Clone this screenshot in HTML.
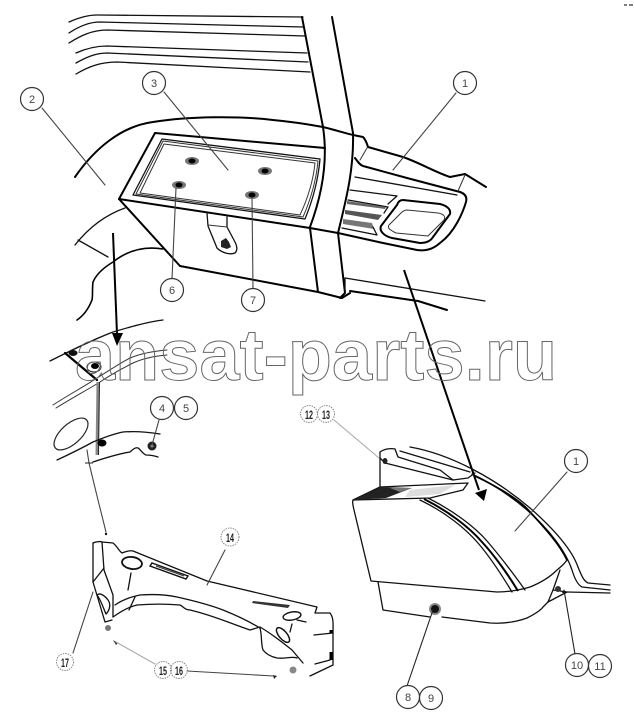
<!DOCTYPE html>
<html><head><meta charset="utf-8"><style>
html,body{margin:0;padding:0;background:#fff}
svg{display:block;filter:blur(0.35px)}
.t{fill:none;stroke:#111;stroke-width:1.3;stroke-linecap:round;stroke-linejoin:round}
.b{fill:none;stroke:#000;stroke-width:2;stroke-linecap:round;stroke-linejoin:round}
.m{fill:none;stroke:#333;stroke-width:1;stroke-linecap:round;stroke-linejoin:round}
.g{fill:none;stroke:#444;stroke-width:1.1;stroke-linecap:round}
.lg{fill:none;stroke:#aaa;stroke-width:1.1;stroke-linecap:round}
.c{fill:#fff;stroke:#333;stroke-width:1.2}
.s{fill:none;stroke:#888;stroke-width:1;stroke-dasharray:1.5 1}
text.l{font-family:"Liberation Sans",sans-serif;font-size:11px;fill:#444;text-anchor:middle}
text.n{font-family:"Liberation Sans",sans-serif;font-size:12px;font-weight:bold;fill:#222}
</style></head><body>
<svg width="634" height="718" viewBox="0 0 634 718" xmlns="http://www.w3.org/2000/svg">
<rect width="634" height="718" fill="#fff"/>
<path d="M624 5h3M629 5h4" stroke="#333" stroke-width="1.2"/>

<!-- window lines -->
<g class="t">
<path d="M69 22C78 18 88 15 97 15L303 17"/>
<path d="M69 33C78 27 88 22 100 22L303 27"/>
<path d="M69 43C80 36 92 30 107 30L305 36"/>
<path d="M76 53C85 49 95 46 107 46L307 53"/>
<path d="M76 63C85 58 95 53 107 53L308 62"/>
<path d="M76 74C88 67 100 62 117 62L310 72"/>
</g>

<!-- pillar -->
<g class="b">
<path d="M302 17L323 127C328 160 322 195 310 227"/>
<path d="M332 17L353 133C354 170 346 200 338 233"/>
<path d="M75 177C95 148 122 126 153 122C190 116 240 116 273 120C295 122 312 125 323 127C335 130 345 133 353 135L363 137C366 140 367 144 368 147L403 157C420 163 435 172 450 177L465 174L486 187"/>
<!-- box -->
<path d="M155 133L325 148"/>
<path d="M155 133L119 199L310 228L338 233"/>
<path d="M119 199L180 266L318 292L342 298L350 293"/>
<path d="M310 228L318 292"/>
<path d="M338 233L345 293L340 298"/>
</g>
<path class="t" d="M162 139L320 159C318 182 312 202 305 219L133 195Z"/>
<path class="m" d="M164 144L315 163C313 183 307 200 300 215L140 193Z"/>
<path class="m" d="M163 141L318 161C316 182 310 201 303 217L136 194Z"/>

<!-- box screws -->
<g>
<ellipse cx="192" cy="161" rx="7" ry="4" fill="#777"/><ellipse cx="192" cy="161" rx="3.5" ry="2.5" fill="#000"/>
<ellipse cx="265" cy="171" rx="7" ry="4" fill="#777"/><ellipse cx="265" cy="171" rx="3.5" ry="2.5" fill="#000"/>
<ellipse cx="179" cy="185" rx="7" ry="4" fill="#777"/><ellipse cx="179" cy="185" rx="3.5" ry="2.5" fill="#000"/>
<ellipse cx="252" cy="195" rx="7" ry="4" fill="#777"/><ellipse cx="252" cy="195" rx="3.5" ry="2.5" fill="#000"/>
</g>
<!-- tab -->
<path class="t" d="M207 213L208 226L217 248C222 253 230 255 235 253C238 250 237 246 235 242L227 227L227 217"/>
<path class="m" d="M208 225L227 227"/>
<path d="M221 241l5-3 3 4 2 5-4 2-6-2z" fill="#222"/>

<!-- lower-left of upper view -->
<path class="t" d="M125 208C108 214 90 226 75 245"/>
<path class="t" d="M78 240L108 257"/>
<path class="b" d="M163 249C145 246 128 250 113 262C103 268 96 275 93 282C92 290 93 295 92 300C88 310 83 316 77 320" style="stroke-width:1.6"/>

<!-- right of upper view -->
<path class="m" d="M367 148L360 160"/>
<path class="b" d="M355 158C358 162 360 165 363 166L407 178L460 192C466 194 467 198 466 202C463 212 455 232 440 243C432 250 425 251 417 250L383 243L338 233"/>
<path class="m" d="M465 175L458 191"/>
<path class="t" d="M355 177L457 195"/>
<path class="t" d="M350 190L397 196L388 204"/>
<path class="t" d="M348 200L388 207L384 213"/>
<path d="M347 201L386 207L385 209L347 204Z" fill="#666"/>
<path d="M345 210L382 215L378 220L345 214Z" fill="#555"/>
<path d="M343 219L372 223L374 229L343 224Z" fill="#777"/>
<path class="t" d="M342 228L377 235L373 227"/>
<path class="b" d="M403 200L440 204C448 206 451 210 450 214L433 237C430 242 425 243 420 243L392 238C384 236 379 231 381 226L397 205C398 202 400 200 403 200Z"/>
<path class="m" d="M407 210L438 213C444 214 446 217 444 220L428 236L396 233C390 230 387 228 389 225L401 213C403 211 405 210 407 210Z"/>
<path class="t" d="M345 278L485 301"/>
<path class="t" d="M345 278V291"/>
<path class="b" d="M350 291L418 301L447 310"/>

<!-- arrows -->
<path d="M404 270L479 490" stroke="#000" stroke-width="2" fill="none"/>
<path d="M475 493L487 489L484 501Z" fill="#000"/>
<path d="M113 233L117 334" stroke="#000" stroke-width="2" fill="none"/>
<path d="M112 333L123 333L117 346Z" fill="#000"/>

<!-- detail left -->
<path class="t" d="M50 361C70 351 92 340 113 332C130 327 147 322 163 320"/>
<path class="m" d="M53 405C70 394 85 386 97 378C110 370 120 363 130 358C142 353 155 351 167 350"/>
<path class="m" d="M56 408C72 398 87 390 100 382C113 373 123 368 133 363C144 358 155 356 167 355"/>
<path class="b" d="M65 353L97 380" style="stroke-width:2.2"/>
<ellipse cx="73" cy="353" rx="4.5" ry="3" fill="#111"/>
<ellipse cx="94" cy="367" rx="7" ry="5" fill="#fff" stroke="#222"/>
<ellipse cx="95" cy="366" rx="4" ry="3" fill="#000"/>
<path d="M98 382L97 455" stroke="#888" stroke-width="3" fill="none"/>
<path d="M99.500 382L98.500 455" stroke="#222" stroke-width="1" fill="none"/>
<ellipse cx="71" cy="434" rx="21" ry="10" transform="rotate(-42 71 434)" fill="none" stroke="#222" stroke-width="1.200"/>
<path class="t" d="M57 460C70 454 82 448 93 442C105 437 113 434 123 432C135 431 148 432 160 434"/>
<path class="t" d="M93 462C105 458 118 454 130 452C133 449 136 447 138 448C140 449 143 454 146 455C150 455 155 456 158 457"/>
<ellipse cx="102" cy="443" rx="4.500" ry="3.500" fill="#000"/>
<circle cx="152" cy="446" r="4.500" fill="#222"/>
<circle cx="152" cy="446" r="1.500" fill="#888"/>
<path class="g" d="M87 450L89 463L98 500L106 532"/>
<path d="M85 463h8" stroke="#222" stroke-width="1"/>
<circle cx="106" cy="534" r="1.200" fill="#111"/>

<!-- bracket -->
<g class="t">
<path d="M93 543C95 542 100 541 102 542L113 543C117 546 119 551 122 553C125 552 129 550 133 551L207 581L317 607L315 613L330 613C334 618 333 625 333 635L333 665L310 676"/>
<path d="M93 543L93 582L105 622L112 620"/>
<path d="M102 542L104 570L113 595L113 617"/>
<path d="M93 582L104 568"/>
<path d="M113 617C120 612 128 607 137 605C150 604 168 604 180 605C184 607 185 610 190 610C212 615 232 624 250 630L260 627C272 634 282 642 292 650L303 663"/>
<path d="M115 605C122 600 130 597 140 595C155 594 168 595 177 597C195 601 210 605 223 610C238 616 250 622 260 628"/>
<path d="M260 628C262 635 261 645 263 650C267 655 272 657 277 658C285 659 292 656 297 658"/>
<path d="M128 590L131 573M129 610L135 597"/>
<path d="M97 595C101 600 104 610 106 614C110 610 111 604 108 600C105 596 100 592 97 595Z"/>
<path d="M292 624L290 632M297 620L306 622"/>
<path d="M333 633L314 635M330 660L315 664"/>
</g>
<ellipse cx="132" cy="563" rx="10" ry="6" fill="none" stroke="#111" stroke-width="1.800" transform="rotate(8 132 563)"/>
<path d="M152 563L188 576L186 579L150 566Z" fill="none" stroke="#111" stroke-width="1.400"/>
<path d="M156 566L184 576" stroke="#333" stroke-width="1"/>
<path d="M253 601L290 605L288 608L252 603Z" fill="#333"/>
<ellipse cx="292" cy="616" rx="9" ry="4" fill="none" stroke="#111" stroke-width="1.400" transform="rotate(-10 292 616)"/>
<ellipse cx="283" cy="635" rx="9" ry="4" fill="none" stroke="#111" stroke-width="1.500" transform="rotate(50 283 635)"/>
<path d="M331 633v-3M331 660v-8" stroke="#000" stroke-width="3"/>
<circle cx="108" cy="628" r="3" fill="#777"/>
<path d="M113 640l5 3-2 2z" fill="#333"/>
<circle cx="293" cy="670" r="3.500" fill="#888"/>
<path d="M273 675l4 1-3 3z" fill="#222"/>

<!-- big body -->
<g class="t">
<path d="M380 452C384 449 390 448 395 449L398 457L440 470L453 480L468 478L475 473"/>
<path d="M380 452L380 487"/>
<path d="M380 458L385 463L453 480"/>
<path d="M400 451L440 463L470 472"/>
<path d="M410 447C450 454 495 478 530 508C555 530 572 550 578 567C582 577 584 581 588 583L610 585"/>
<path d="M472 474C495 485 512 497 527 510C550 530 566 552 572 570C575 580 578 585 582 587L610 590"/>
<path d="M353 500C352 503 353 505 354 510L371 581L497 592C510 592 520 590 530 587C540 583 550 577 557 570C562 566 565 563 567 560"/>
<path d="M378 582L383 610L430 617"/>
<path d="M442 617L490 623C505 624 516 622 527 618C535 614 540 611 543 607L548 602"/>
<path d="M548 602L553 590L560 570"/>
<path d="M548 602L567 592L553 590"/>
<path d="M567 592L610 593"/>
<path d="M353 500L380 487L468 483L463 490L430 498Z"/>
<path d="M420 500C445 512 465 528 478 543C490 557 503 577 512 592"/>
<path d="M428 498C452 510 474 526 487 541C500 556 515 576 525 590"/>
</g>
<path d="M424 499C448 511 469 527 482 542C495 556 509 576 518 591" fill="none" stroke="#000" stroke-width="2"/>
<path d="M475 476C500 488 520 500 530 512C545 528 560 545 567 560" fill="none" stroke="#000" stroke-width="1.800"/>
<path d="M353 500L381 487L412 488L386 498Z" fill="#222"/>
<path d="M390 488L412 488L400 492Z" fill="#777"/>
<path d="M410 490L455 485L440 494L405 497Z" fill="#ddd"/>
<ellipse cx="385" cy="461" rx="2.500" ry="3" fill="#222"/>
<circle cx="435" cy="609" r="6" fill="#888"/>
<circle cx="435" cy="609" r="4" fill="#111"/>
<circle cx="558" cy="589" r="3" fill="#333"/>
<path d="M564 590l3 3h-5z" fill="#000"/>

<!-- leaders -->
<g class="g">
<path d="M456 93L393 170"/>
<path d="M164 92L228 170"/>
<path d="M42 108L105 185"/>
<path d="M176 188L172 279"/>
<path d="M252 197L253 289"/>
<path d="M159 420L152 445"/>
<path d="M225 550L207 585"/>
<path d="M73 653L93 592"/>
<path d="M187 671L274 676"/>
<path d="M567 472L515 531"/>
<path d="M407 686L433 610" stroke="#222"/>
<path d="M575 654L564 590" stroke="#222"/>
</g>
<path class="lg" d="M155 664L116 642"/>
<path class="lg" d="M334 420L379 458"/>

<!-- watermark -->
<text x="75" y="380" font-family="'Liberation Sans',sans-serif" font-weight="bold" font-size="72" textLength="482" lengthAdjust="spacing" fill="none" stroke="#666" stroke-width="1">ansat-parts.ru</text>

<!-- labels -->
<circle class="c" cx="465" cy="83" r="11.500"/><text class="l" x="465" y="87">1</text>
<circle class="c" cx="32" cy="99" r="11.500"/><text class="l" x="32" y="103">2</text>
<circle class="c" cx="154" cy="83" r="11.500"/><text class="l" x="154" y="87">3</text>
<circle class="c" cx="172" cy="290" r="11.500"/><text class="l" x="172" y="294">6</text>
<circle class="c" cx="253" cy="300" r="11.500"/><text class="l" x="253" y="304">7</text>
<circle class="c" cx="162" cy="408" r="11.500"/><text class="l" x="162" y="412">4</text>
<circle class="c" cx="186" cy="408" r="11.500"/><text class="l" x="186" y="412">5</text>
<circle class="c" cx="576" cy="461" r="11.500"/><text class="l" x="576" y="465">1</text>
<circle class="c" cx="408" cy="697" r="11.500"/><text class="l" x="408" y="701">8</text>
<circle class="c" cx="431" cy="698" r="11.500"/><text class="l" x="431" y="702">9</text>
<circle class="c" cx="577" cy="665" r="11.500"/><text class="l" x="577" y="669">10</text>
<circle class="c" cx="600" cy="666" r="11.500"/><text class="l" x="600" y="670">11</text>
<circle class="s" cx="309" cy="414" r="8.500"/><text class="n" x="305" y="419" textLength="8" lengthAdjust="spacingAndGlyphs">12</text>
<circle class="s" cx="326" cy="414" r="8.500"/><text class="n" x="322" y="419" textLength="8" lengthAdjust="spacingAndGlyphs">13</text>
<circle class="s" cx="230" cy="537" r="9"/><text class="n" x="226" y="542" textLength="8" lengthAdjust="spacingAndGlyphs">14</text>
<circle class="s" cx="163" cy="670" r="8.500"/><text class="n" x="159" y="675" textLength="8" lengthAdjust="spacingAndGlyphs">15</text>
<circle class="s" cx="179" cy="670" r="8.500"/><text class="n" x="175" y="675" textLength="8" lengthAdjust="spacingAndGlyphs">16</text>
<circle class="s" cx="65" cy="662" r="8.500"/><text class="n" x="61" y="667" textLength="8" lengthAdjust="spacingAndGlyphs">17</text>
</svg>
</body></html>
